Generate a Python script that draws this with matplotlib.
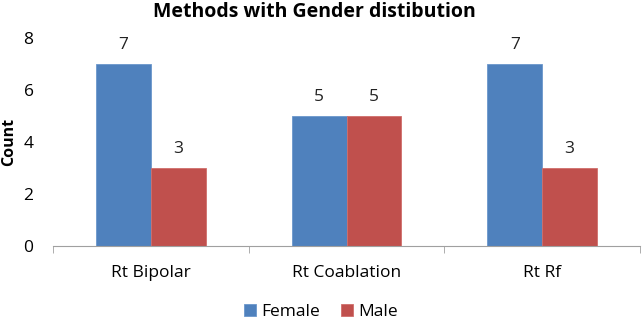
import numpy as np
import matplotlib.pyplot as plt

plt.rcParams['font.family'] = ['Open Sans', 'DejaVu Sans']

methods = ['Rt Bipolar', 'Rt Coablation', 'Rt Rf']
female = [7, 5, 7]
male = [3, 5, 3]
yticks = [0, 2, 4, 6, 8]

fig = plt.figure(figsize=(6.42, 3.22), dpi=100)
ax = fig.add_axes([53 / 642, 1 - 246 / 322, 587 / 642, 208 / 322])

x = np.arange(len(methods))
w = 0.28
b1 = ax.bar(x - w / 2, female, w, color='#4F81BD', edgecolor='#6b97cc',
            linewidth=0.6, label='Female')
b2 = ax.bar(x + w / 2, male, w, color='#C0504D', edgecolor='#d06e6b',
            linewidth=0.6, label='Male')
for bars in (b1, b2):
    for rect in bars:
        h = rect.get_height()
        ax.annotate(str(h), (rect.get_x() + rect.get_width() / 2, h),
                    xytext=(0, 8), textcoords='offset points',
                    ha='center', va='bottom', fontsize=12.5, color='#222222')

ax.set_xlim(-0.5, len(methods) - 0.5)
ax.set_ylim(0, 8)
ax.set_yticks(yticks)
ax.set_xticks(x)
ax.set_xticklabels(methods, fontsize=12.5)
ax.set_xticks(np.arange(len(methods) + 1) - 0.5, minor=True)
ax.tick_params(axis='x', which='major', length=0, pad=14)
ax.tick_params(axis='x', which='minor', length=5, color='#a0a0a0')
ax.tick_params(axis='y', length=0, labelsize=12.5, pad=14)
for s in ('top', 'right', 'left'):
    ax.spines[s].set_visible(False)
ax.spines['bottom'].set_color('#a0a0a0')

ax.set_ylabel('Count', fontsize=11.5, fontweight='bold')
ax.yaxis.set_label_coords((17 - 53) / 587, 0.5)
fig.text(314 / 642, 1 - 17 / 322, 'Methods with Gender distibution',
         ha='center', va='baseline', fontsize=14, fontweight='bold')
fig.legend(loc='center', bbox_to_anchor=(0.5, 1 - 312 / 322), ncol=2,
           frameon=False, fontsize=12.5, handlelength=0.7, handleheight=0.7,
           columnspacing=1.2, handletextpad=0.3)

fig.savefig('out.png', dpi=100)
